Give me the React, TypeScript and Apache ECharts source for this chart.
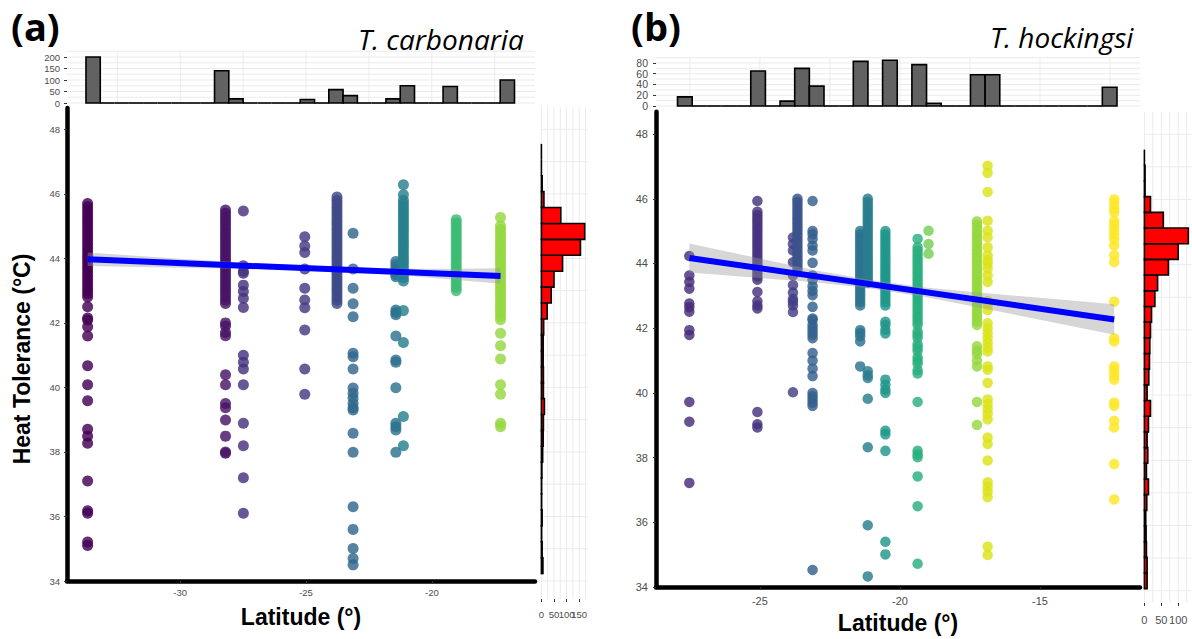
import React, { useEffect, useRef } from "react";
import * as echarts from "echarts";

// ---------------- Panel (a): T. carbonaria ----------------
const latA = [-33.68, -28.2, -27.49, -25.05, -23.77, -23.13, -21.43, -21.13, -19.03, -17.27];
const colorA = ["#440154", "#481467", "#46337e", "#443a83", "#3e4a89", "#31688e", "#2c728e", "#277f8e", "#3dbc74", "#95d840"];
const a1 = [45.7, 45.6, 45.5, 45.4, 45.3, 45.2, 45.1, 45.0, 44.9, 44.8, 44.7, 44.6, 44.5, 44.4, 44.3, 44.2, 44.1, 44.0, 43.9, 43.8, 43.7, 43.6, 43.5, 43.4, 43.3, 43.2, 43.1, 43.0, 42.9, 42.8, 42.5, 42.15, 42.09, 41.88, 41.59, 40.67, 40.08, 39.59, 38.7, 38.49, 38.27, 37.1, 36.18, 36.1, 35.21, 35.1];
const a2 = [45.5, 45.4, 45.3, 45.2, 45.1, 45.0, 44.9, 44.8, 44.7, 44.6, 44.5, 44.4, 44.3, 44.2, 44.1, 44.0, 43.9, 43.8, 43.7, 43.6, 43.5, 43.4, 43.3, 43.2, 43.1, 43.0, 42.9, 42.8, 42.7, 42.6, 42.0, 41.9, 41.7, 41.6, 40.39, 40.08, 39.5, 39.37, 38.99, 38.49, 38.0, 37.96];
const a3 = [45.47, 43.77, 43.6, 43.54, 43.17, 42.97, 42.76, 42.48, 41.0, 40.78, 40.57, 40.08, 38.89, 38.19, 37.2, 36.1];
const a4 = [44.67, 44.38, 44.18, 43.67, 43.07, 42.71, 42.47, 41.78, 40.57, 39.79];
const a5 = [45.9, 45.8, 45.7, 45.6, 45.5, 45.4, 45.3, 45.2, 45.1, 45.0, 44.9, 44.8, 44.7, 44.6, 44.5, 44.4, 44.3, 44.2, 44.1, 44.0, 43.9, 43.8, 43.7, 43.6, 43.5, 43.4, 43.3, 43.2, 43.1, 43.0, 42.9, 42.8, 42.7, 42.6];
const a6 = [44.78, 43.67, 43.07, 42.59, 42.19, 41.06, 40.95, 40.57, 39.98, 39.82, 39.67, 39.5, 39.37, 39.3, 38.58, 37.99, 36.3, 35.6, 35.01, 34.7, 34.5];
const a7 = [43.9, 43.8, 43.7, 43.6, 43.5, 43.43, 42.4, 42.32, 42.25, 41.59, 40.85, 40.78, 39.99, 38.89, 38.78, 38.68, 37.99];
const a8 = [46.28, 45.97, 45.8, 45.7, 45.6, 45.5, 45.4, 45.3, 45.2, 45.1, 45.0, 44.9, 44.8, 44.7, 44.6, 44.5, 44.4, 44.3, 44.2, 44.1, 44.0, 43.9, 43.8, 43.7, 43.6, 43.5, 43.4, 43.3, 42.38, 41.39, 39.1, 38.19];
const a9 = [45.2, 45.1, 45.0, 44.9, 44.8, 44.7, 44.6, 44.5, 44.4, 44.3, 44.2, 44.1, 44.0, 43.9, 43.8, 43.7, 43.6, 43.5, 43.4, 43.3, 43.2, 43.1, 43.0];
const a10 = [45.27, 45.0, 44.9, 44.8, 44.7, 44.6, 44.5, 44.4, 44.3, 44.2, 44.1, 44.0, 43.9, 43.8, 43.7, 43.6, 43.5, 43.4, 43.3, 43.2, 43.1, 43.0, 42.9, 42.8, 42.7, 42.6, 42.5, 42.4, 42.3, 42.2, 42.1, 41.68, 41.29, 40.88, 40.08, 39.79, 38.89, 38.78];
const tolA = [a1, a2, a3, a4, a5, a6, a7, a8, a9, a10];

const topLoA = -33.746;
const topWA = 0.5677;
const topCountsA = [200, 0, 0, 0, 0, 0, 0, 0, 0, 140, 18, 0, 0, 0, 0, 15, 0, 58, 32, 0, 0, 18, 75, 0, 0, 72, 0, 0, 0, 100];
const rightLoA = 34.23;
const rightWA = 0.4933;
const rightCountsA = [6, 3, 1, 3, 1, 1, 2, 5, 7, 8, 12, 8, 8, 7, 7, 9, 23, 39, 50, 84, 155, 172, 77, 10, 3, 0, 0];
const fitXA = [-33.68, -17.27];
const fitYA = [43.97, 43.45];
const bandXA = [-33.68, -30, -27, -25, -23, -21, -19, -17.27];
const bandLoA = [43.76, 43.71, 43.67, 43.62, 43.55, 43.46, 43.33, 43.21];
const bandHiA = [44.18, 43.99, 43.85, 43.77, 43.71, 43.68, 43.68, 43.69];
const xTicksA = [-30, -25, -20];
const topTicksA = [[0, 50, 100, 150, 200]];
const rightTicksA = [[0, 100], [50, 150]];

// ---------------- Panel (b): T. hockingsi ----------------
const latB = [-27.52, -25.09, -23.82, -23.66, -23.12, -21.42, -21.15, -20.52, -19.37, -18.98, -17.25, -16.87, -12.35];
const colorB = ["#472c7a", "#46337e", "#433e85", "#3b528b", "#35608d", "#2c718e", "#287d8e", "#1f968b", "#29af7f", "#73d055", "#95d840", "#dce319", "#fde725"];
const b1 = [44.23, 43.63, 43.43, 43.22, 42.76, 42.65, 42.51, 41.94, 41.79, 39.72, 39.11, 37.22];
const b2 = [45.93, 45.6, 45.5, 45.4, 45.3, 45.2, 45.1, 45.0, 44.9, 44.8, 44.7, 44.6, 44.5, 44.4, 44.3, 44.2, 44.1, 44.0, 43.9, 43.8, 43.7, 43.6, 43.5, 43.12, 42.83, 42.7, 42.61, 39.41, 39.03, 38.93];
const b3a = [44.8, 44.6, 44.4, 44.04, 43.63, 43.33, 43.1, 42.9, 42.82, 42.7, 42.5, 40.02];
const b3b = [46.0, 45.9, 45.8, 45.7, 45.6, 45.5, 45.4, 45.3, 45.2, 45.1, 45.0, 44.9, 44.8, 44.7, 44.6, 44.5, 44.4, 44.3, 44.2, 44.1, 44.0, 43.9, 43.8];
const b4 = [45.93, 45.0, 44.9, 44.76, 44.55, 44.4, 44.02, 43.63, 43.5, 43.3, 43.15, 43.02, 42.66, 42.3, 42.25, 42.1, 42.0, 41.9, 41.8, 41.69, 41.23, 41.0, 40.75, 40.52, 40.0, 39.9, 39.8, 39.7, 39.6, 34.53];
const b5 = [45.0, 44.9, 44.8, 44.7, 44.6, 44.5, 44.4, 44.3, 44.2, 44.1, 44.0, 43.9, 43.8, 43.7, 43.6, 43.5, 43.4, 43.3, 43.2, 43.1, 43.0, 42.9, 42.8, 42.7, 41.94, 41.85, 41.75, 41.59, 40.82];
const b6 = [46.0, 45.9, 45.8, 45.7, 45.6, 45.5, 45.4, 45.3, 45.2, 45.1, 45.0, 44.9, 44.8, 44.7, 44.6, 44.5, 44.4, 44.3, 44.2, 44.1, 44.0, 43.9, 43.8, 43.7, 43.6, 43.5, 43.4, 40.67, 40.55, 40.46, 39.82, 38.32, 35.91, 34.33];
const b7 = [45.0, 44.9, 44.8, 44.7, 44.6, 44.5, 44.4, 44.3, 44.2, 44.1, 44.0, 43.9, 43.8, 43.7, 43.6, 43.5, 43.4, 43.3, 43.2, 43.1, 43.0, 42.9, 42.8, 42.7, 42.2, 42.1, 41.95, 41.84, 40.41, 40.25, 40.1, 40.0, 38.83, 38.72, 38.21, 35.4, 35.01];
const b8 = [44.76, 44.5, 44.4, 44.3, 44.2, 44.1, 44.0, 43.9, 43.8, 43.7, 43.6, 43.5, 43.4, 43.3, 43.2, 43.1, 43.0, 42.9, 42.8, 42.7, 42.6, 42.5, 42.4, 42.3, 42.2, 42.1, 41.9, 41.8, 41.7, 41.5, 41.4, 41.3, 41.1, 41.0, 40.9, 40.7, 40.6, 39.72, 38.21, 38.1, 38.01, 37.42, 36.5, 34.72];
const b9 = [45.01, 44.6, 44.3];
const b10 = [45.3, 45.2, 45.1, 45.0, 44.9, 44.8, 44.7, 44.6, 44.5, 44.4, 44.3, 44.2, 44.1, 44.0, 43.9, 43.8, 43.7, 43.6, 43.5, 43.4, 43.3, 43.2, 43.1, 43.0, 42.9, 42.8, 42.7, 42.6, 42.5, 42.4, 42.3, 42.2, 42.1, 41.44, 41.3, 41.2, 41.0, 40.82, 39.72, 39.01];
const b11 = [47.02, 46.8, 46.21, 45.32, 45.01, 44.81, 44.5, 44.25, 44.1, 44.0, 43.85, 43.63, 43.43, 42.83, 42.7, 42.56, 42.15, 42.0, 41.85, 41.7, 41.55, 41.4, 41.28, 40.82, 40.72, 40.31, 39.8, 39.65, 39.5, 39.35, 39.18, 38.62, 38.42, 37.91, 37.24, 37.1, 36.95, 36.78, 35.25, 34.99];
const b12 = [45.98, 45.85, 45.7, 45.58, 45.32, 45.2, 45.05, 44.9, 44.75, 44.55, 44.25, 44.04, 42.82, 41.69, 41.59, 40.82, 40.7, 40.55, 40.41, 39.7, 39.6, 39.14, 38.93, 37.8, 36.71];
const tolB = [b1, b2, b3a, b3b, b4, b5, b6, b7, b8, b9, b10, b11, b12];

const topLoB = -27.942;
const topWB = 0.523;
const topCountsB = [17, 0, 0, 0, 0, 65, 0, 9, 70, 37, 0, 0, 83, 0, 85, 0, 77, 5, 0, 0, 58, 58, 0, 0, 0, 0, 0, 0, 0, 35];
const rightLoB = 34.06;
const rightWB = 0.481;
const rightCountsB = [8, 8, 6, 5, 4, 7, 12, 6, 10, 8, 12, 18, 8, 13, 15, 16, 18, 21, 31, 39, 71, 100, 130, 56, 18, 2, 2, 0];
const fitXB = [-27.52, -12.35];
const fitYB = [44.17, 42.27];
const bandXB = [-27.52, -25, -23, -21, -19, -17, -15, -12.35];
const bandLoB = [43.72, 43.55, 43.42, 43.22, 42.95, 42.61, 42.26, 41.8];
const bandHiB = [44.62, 44.15, 43.78, 43.48, 43.25, 43.09, 42.94, 42.74];
const xTicksB = [-25, -20, -15];
const topTicksB = [[0, 40, 80], [20, 60]];
const rightTicksB = [[0, 50, 100]];

const yTicks = [34, 36, 38, 40, 42, 44, 46, 48];
const yGridVals = [34, 35, 36, 37, 38, 39, 40, 41, 42, 43, 44, 45, 46, 47, 48];

// ---------------- layout / style ----------------
const FONT = '"Liberation Sans", Arial, sans-serif';
const TFONT = '"Open Sans", Lato, sans-serif';
const LABEL_C = "#4d4d4d";
const TICK_C = "#333333";
const GRID_C = "#ebebeb";

const panelA = {
  lat: latA, tol: tolA, colors: colorA, pointSize: 11,
  main: { left: 67, top: 108, width: 468, height: 473 },
  xMin: -34.5, xMax: -15.9, yMax: 48.66,
  xTicks: xTicksA, fs: 9.5, topFs: 9.5, xLabelMargin: 6, yLabelMargin: 7, nameGap: 24,
  top: { left: 67, top: 51.25, width: 468, height: 51.75 }, topMax: 225, topTickSets: topTicksA,
  topGridX: [-32.5, -30, -27.5, -25, -22.5, -20, -17.5], topGridY: [0, 25, 50, 75, 100, 125, 150, 175, 200, 225],
  topLo: topLoA, topW: topWA, topCounts: topCountsA,
  right: { left: 541.4, top: 107, width: 46.6, height: 492 }, rMin: 33.442, rMax: 48.693,
  rightMax: 185, rightTickSets: rightTicksA, rightGridX: [0, 25, 50, 75, 100, 125, 150, 175], rightLabelMargin: 10,
  rightLo: rightLoA, rightW: rightWA, rightCounts: rightCountsA,
  fitX: fitXA, fitY: fitYA, bandX: bandXA, bandLo: bandLoA, bandHi: bandHiA,
};

const panelB = {
  lat: latB, tol: tolB, colors: colorB, pointSize: 10.5,
  main: { left: 656, top: 111.7, width: 484, height: 479 },
  xMin: -28.71, xMax: -11.43, yMax: 48.69,
  xTicks: xTicksB, fs: 11, topFs: 10.5, xLabelMargin: 8, yLabelMargin: 8, nameGap: 21,
  top: { left: 656, top: 57.6, width: 484, height: 48.4 }, topMax: 90, topTickSets: topTicksB,
  topGridX: [-27.5, -25, -22.5, -20, -17.5, -15, -12.5], topGridY: [0, 10, 20, 30, 40, 50, 60, 70, 80, 90],
  topLo: topLoB, topW: topWB, topCounts: topCountsB,
  right: { left: 1144.4, top: 111.7, width: 47.3, height: 491.3 }, rMin: 33.623, rMax: 48.69,
  rightMax: 140, rightTickSets: rightTicksB, rightGridX: [0, 25, 50, 75, 100, 125], rightLabelMargin: 11,
  rightLo: rightLoB, rightW: rightWB, rightCounts: rightCountsB,
  fitX: fitXB, fitY: fitYB, bandX: bandXB, bandLo: bandLoB, bandHi: bandHiB,
};

function gridLineItem(params: any, api: any) {
  const p0 = api.coord([api.value(0), api.value(1)]);
  const p1 = api.coord([api.value(2), api.value(3)]);
  return {
    type: "line",
    shape: { x1: p0[0], y1: p0[1], x2: p1[0], y2: p1[1] },
    style: { stroke: GRID_C, lineWidth: 1 },
    silent: true,
  };
}

function addPanel(P: any, grid: any[], xAxis: any[], yAxis: any[], series: any[]) {
  const g0 = grid.length;
  grid.push({ ...P.main, containLabel: false });
  grid.push({ ...P.top, containLabel: false });
  grid.push({ ...P.right, containLabel: false });

  const lbl = { color: LABEL_C, fontSize: P.fs, fontFamily: FONT, showMinLabel: true, showMaxLabel: true, hideOverlap: false };
  const tick = { show: true, length: 3, lineStyle: { color: TICK_C, width: 1 } };

  // main axes
  const mx = xAxis.length;
  xAxis.push({
    gridIndex: g0, type: "value", min: P.xMin, max: P.xMax,
    axisLine: { show: true, onZero: false, lineStyle: { color: "#000", width: 4.5 } },
    axisTick: { ...tick, customValues: P.xTicks },
    axisLabel: { ...lbl, customValues: P.xTicks, margin: P.xLabelMargin },
    splitLine: { show: false },
    name: "Latitude (°)", nameLocation: "middle", nameGap: P.nameGap,
    nameTextStyle: { fontSize: 23, fontWeight: "bold", color: "#000", fontFamily: FONT },
  });
  const my = yAxis.length;
  yAxis.push({
    gridIndex: g0, type: "value", min: 34, max: P.yMax,
    axisLine: { show: true, onZero: false, lineStyle: { color: "#000", width: 4.5 } },
    axisTick: { ...tick, customValues: yTicks },
    axisLabel: { ...lbl, customValues: yTicks, margin: P.yLabelMargin },
    splitLine: { show: false },
  });
  // top histogram axes
  const tx = xAxis.length;
  xAxis.push({ gridIndex: g0 + 1, type: "value", min: P.xMin, max: P.xMax, show: false });
  const ty = yAxis.length;
  P.topTickSets.forEach((ticks: number[]) => {
    yAxis.push({
      gridIndex: g0 + 1, type: "value", min: 0, max: P.topMax, position: "left", offset: 0,
      axisLine: { show: false },
      axisTick: { ...tick, customValues: ticks },
      axisLabel: { ...lbl, fontSize: P.topFs, customValues: ticks, margin: P.yLabelMargin },
      splitLine: { show: false },
    });
  });
  // right histogram axes
  const rx = xAxis.length;
  P.rightTickSets.forEach((ticks: number[]) => {
    xAxis.push({
      gridIndex: g0 + 2, type: "value", min: 0, max: P.rightMax, position: "bottom", offset: 0,
      axisLine: { show: false, onZero: false },
      axisTick: { ...tick, customValues: ticks },
      axisLabel: { ...lbl, customValues: ticks, margin: P.rightLabelMargin },
      splitLine: { show: false },
    });
  });
  const ry = yAxis.length;
  yAxis.push({ gridIndex: g0 + 2, type: "value", min: P.rMin, max: P.rMax, show: false });

  // top hist gridlines
  const topLines = [
    ...P.topGridX.map((x: number) => [x, 0, x, P.topMax]),
    ...P.topGridY.map((y: number) => [P.xMin, y, P.xMax, y]),
  ];
  series.push({ type: "custom", xAxisIndex: tx, yAxisIndex: ty, z: 1, silent: true, data: topLines, renderItem: gridLineItem });
  // top hist bars
  series.push({
    type: "custom", xAxisIndex: tx, yAxisIndex: ty, z: 3, silent: true,
    data: P.topCounts.map((c: number, i: number) => [P.topLo + i * P.topW, P.topLo + (i + 1) * P.topW, c]),
    renderItem: (params: any, api: any) => {
      const a = api.coord([api.value(0), 0]);
      const b = api.coord([api.value(1), api.value(2)]);
      if (api.value(2) === 0) {
        return { type: "line", shape: { x1: a[0], y1: a[1], x2: b[0], y2: a[1] }, style: { stroke: "#000", lineWidth: 1.6 } };
      }
      return {
        type: "rect",
        shape: { x: a[0], y: b[1], width: b[0] - a[0], height: a[1] - b[1] },
        style: { fill: "#626262", stroke: "#000", lineWidth: 1.6 },
      };
    },
  });
  // right hist gridlines
  const rightLines = [
    ...P.rightGridX.map((x: number) => [x, P.rMin, x, P.rMax]),
    ...yGridVals.map((y: number) => [0, y, P.rightMax, y]),
  ];
  series.push({ type: "custom", xAxisIndex: rx, yAxisIndex: ry, z: 1, silent: true, data: rightLines, renderItem: gridLineItem });
  // right hist bars
  series.push({
    type: "custom", xAxisIndex: rx, yAxisIndex: ry, z: 3, silent: true,
    data: P.rightCounts.map((c: number, i: number) => [P.rightLo + i * P.rightW, P.rightLo + (i + 1) * P.rightW, c]),
    renderItem: (params: any, api: any) => {
      const a = api.coord([0, api.value(0)]);
      const b = api.coord([api.value(2), api.value(1)]);
      if (api.value(2) === 0) {
        return { type: "line", shape: { x1: a[0], y1: a[1], x2: a[0], y2: b[1] }, style: { stroke: "#000", lineWidth: 1.6 } };
      }
      return {
        type: "rect",
        shape: { x: a[0], y: b[1], width: b[0] - a[0], height: a[1] - b[1] },
        style: { fill: "#ff0000", stroke: "#000", lineWidth: 1.6 },
      };
    },
  });
  // scatter columns
  P.tol.forEach((vals: number[], i: number) => {
    series.push({
      type: "scatter", xAxisIndex: mx, yAxisIndex: my, z: 2, silent: true,
      symbolSize: P.pointSize,
      itemStyle: { color: P.colors[i], opacity: 0.82 },
      data: vals.map((v) => [P.lat[i], v]),
    });
  });
  // confidence band
  series.push({
    type: "custom", xAxisIndex: mx, yAxisIndex: my, z: 4, silent: true,
    data: [[P.bandX[0], P.bandLo[0]]],
    renderItem: (params: any, api: any) => {
      const up = P.bandX.map((x: number, i: number) => api.coord([x, P.bandHi[i]]));
      const lo = P.bandX.map((x: number, i: number) => api.coord([x, P.bandLo[i]])).reverse();
      return { type: "polygon", shape: { points: up.concat(lo) }, style: { fill: "rgba(153,153,153,0.4)" } };
    },
  });
  // regression line
  series.push({
    type: "line", xAxisIndex: mx, yAxisIndex: my, z: 5, silent: true,
    symbol: "none", lineStyle: { color: "#0000ff", width: 6 },
    data: P.fitX.map((x: number, i: number) => [x, P.fitY[i]]),
  });
}

function buildOption() {
  const grid: any[] = [];
  const xAxis: any[] = [];
  const yAxis: any[] = [];
  const series: any[] = [];
  addPanel(panelA, grid, xAxis, yAxis, series);
  addPanel(panelB, grid, xAxis, yAxis, series);
  return {
    animation: false,
    backgroundColor: "#ffffff",
    grid, xAxis, yAxis, series,
    graphic: [
      { type: "text", x: 11, y: 26, z: 10, style: { text: "(a)", fontFamily: TFONT, fontWeight: "bold", fontSize: 38, fill: "#000", verticalAlign: "middle" } },
      { type: "text", x: 358, y: 39, z: 10, style: { text: "T. carbonaria", fontFamily: TFONT, fontStyle: "italic", fontSize: 28, fill: "#000", verticalAlign: "middle" } },
      { type: "text", x: 631, y: 26, z: 10, style: { text: "(b)", fontFamily: TFONT, fontWeight: "bold", fontSize: 38, fill: "#000", verticalAlign: "middle" } },
      { type: "text", x: 990, y: 37, z: 10, style: { text: "T. hockingsi", fontFamily: TFONT, fontStyle: "italic", fontSize: 28, fill: "#000", verticalAlign: "middle" } },
      { type: "text", x: 22, y: 359, rotation: Math.PI / 2, z: 10, style: { text: "Heat Tolerance (°C)", fontFamily: FONT, fontWeight: "bold", fontSize: 23, fill: "#000", align: "center", verticalAlign: "middle" } },
    ],
  };
}

export default function App() {
  const ref = useRef<HTMLDivElement>(null);
  useEffect(() => {
    const chart = echarts.init(ref.current as HTMLDivElement, null, { renderer: "svg" });
    chart.setOption(buildOption() as any);
    return () => chart.dispose();
  }, []);
  return <div ref={ref} style={{ position: "absolute", left: 0, top: 0, width: 1192, height: 639 }} />;
}
